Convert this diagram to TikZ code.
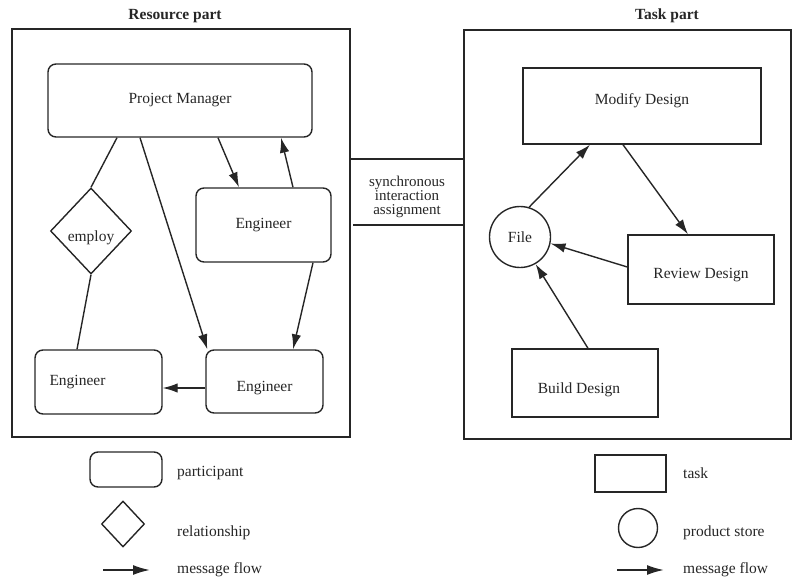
\documentclass[tikz,border=0pt]{standalone}
\usepackage{fontspec}
\setmainfont{Liberation Serif}
\usetikzlibrary{shapes.geometric,arrows.meta}
\definecolor{ink}{HTML}{262626}
\begin{document}
\begin{tikzpicture}[x=1pt,y=-1pt,
  every node/.style={text=ink},
  base/.style={font=\fontsize{15.5}{16}\selectfont},
  frame/.style={draw=ink,line width=1.5pt,inner sep=0pt},
  part/.style={base,draw=ink,line width=1.4pt,rounded corners=8pt,inner sep=0pt},
  task/.style={base,draw=ink,line width=1.4pt,inner sep=0pt},
  rel/.style={base,draw=ink,line width=1.4pt,diamond,inner sep=0pt},
  store/.style={base,draw=ink,line width=1.4pt,circle,inner sep=0pt},
  link/.style={draw=ink,line width=1.4pt},
  msg/.style={link,-{Latex[length=15pt,width=9.5pt]}},
  legmsg/.style={link,line width=1.8pt,-{Latex[length=17pt,width=10pt]}},
  title/.style={font=\fontsize{15.5}{16}\bfseries\selectfont},
  legtext/.style={base,anchor=west,inner sep=0pt}
]
\useasboundingbox (0,0) rectangle (793,578);

% ---- resource part ----
\node[title] (restitle) at (175,16) {Resource part};
\node[frame,minimum width=338pt,minimum height=408pt] (resframe) at (181,233) {};

\node[part,minimum width=264pt,minimum height=73pt] (pm) at (180,100.5) {Project Manager};
\node[part,minimum width=135pt,minimum height=74pt] (e1) at (263.5,225) {Engineer};
\node[part,minimum width=127pt,minimum height=64pt,
      label={[base,name=e2text,xshift=-21pt]center:Engineer}] (e2) at (98.5,382) {};
\node[part,minimum width=117pt,minimum height=63pt,
      label={[base,name=e3text,yshift=-7pt]center:Engineer}] (e3) at (264.5,381.5) {};
\node[rel,minimum width=81pt,minimum height=86pt,
      label={[base,name=employtext,yshift=-7pt]center:employ}] (employ) at (91,231) {};

\draw[link] ([xshift=-63pt]pm.south) -- (employ.north);
\draw[link] (employ.south) -- ([xshift=-21.5pt]e2.north);
\draw[msg] ([xshift=-40pt]pm.south) -- ([xshift=2pt]e3.north west);
\draw[msg] ([xshift=38pt]pm.south) -- ([xshift=-24.5pt]e1.north);
\draw[msg] ([xshift=29.5pt]e1.north) -- ([xshift=101pt]pm.south);
\draw[msg] ([xshift=49.5pt]e1.south) -- ([xshift=28.5pt]e3.north);
\draw[msg] ([yshift=-6.5pt]e3.west) -- ([yshift=-6pt]e2.east);

% ---- interaction between the parts ----
\node[align=center,font=\fontsize{15}{14}\selectfont] (sync) at (407,197) {synchronous\\interaction\\assignment};
\coordinate (synctopL) at (350,159);
\coordinate (synctopR) at (464,159);
\coordinate (syncbotL) at (353,225);
\coordinate (syncbotR) at (464,225);
\draw[link] (synctopL) -- (synctopR);
\draw[link] (syncbotL) -- (syncbotR);

% ---- task part ----
\node[title] (tasktitle) at (667,16) {Task part};
\node[frame,minimum width=327pt,minimum height=409pt] (taskframe) at (627.5,234.5) {};

\node[task,minimum width=238pt,minimum height=76pt,
      label={[base,name=modifytext,yshift=5pt]center:Modify Design}] (modify) at (642,106) {};
\node[task,minimum width=146pt,minimum height=69pt,
      label={[base,name=reviewtext,yshift=-5.5pt]center:Review Design}] (review) at (701,269.5) {};
\node[task,minimum width=146pt,minimum height=68pt,
      label={[base,name=buildtext,xshift=-6pt,yshift=-7pt]center:Build Design}] (build) at (585,383) {};
\node[store,minimum size=61pt] (file) at (520,237) {File};

\draw[msg] (file.73) -- ([xshift=-52pt]modify.south);
\draw[msg] ([xshift=-19pt]modify.south) -- ([xshift=-13pt]review.north);
\draw[msg] ([yshift=2.5pt]review.west) -- (file.-12);
\draw[msg] ([xshift=3pt]build.north) -- (file.-60);

% ---- legend, resource side ----
\node[part,minimum width=72pt,minimum height=35pt] (legpart) at (126,469.5) {};
\node[legtext] (legparttext) at (177,473) {participant};
\node[rel,minimum width=43pt,minimum height=46pt] (legrel) at (123,524) {};
\node[legtext] (legreltext) at (177,533) {relationship};
\coordinate (legmsgA) at (103,570);
\coordinate (legmsgB) at (150,570);
\draw[legmsg] (legmsgA) -- (legmsgB);
\node[legtext] (legmsgtext) at (177,570) {message flow};

% ---- legend, task side ----
\node[task,minimum width=71pt,minimum height=37pt] (legtask) at (630.5,473.5) {};
\node[legtext] (legtasktext) at (683,473) {task};
\node[store,minimum size=39pt] (legstore) at (638,528) {};
\node[legtext] (legstoretext) at (683,533) {product store};
\coordinate (legflowA) at (617,570);
\coordinate (legflowB) at (664,570);
\draw[legmsg] (legflowA) -- (legflowB);
\node[legtext] (legflowtext) at (683,570) {message flow};
\end{tikzpicture}
\end{document}
